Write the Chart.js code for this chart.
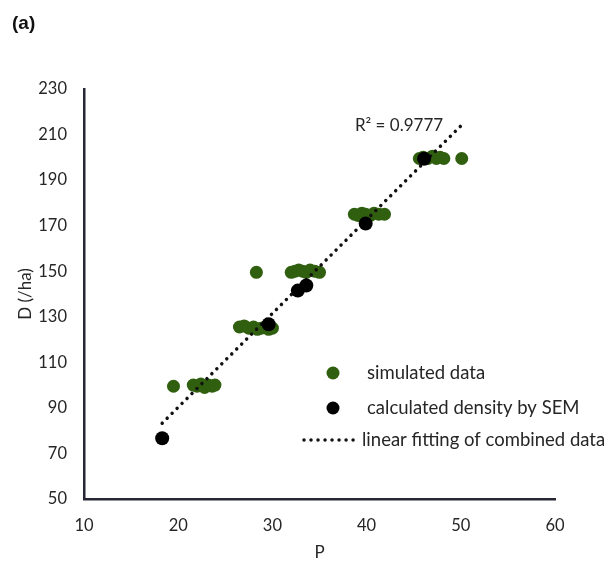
<!DOCTYPE html>
<html>
<head>
<meta charset="utf-8">
<script src="https://cdn.jsdelivr.net/npm/chart.js@4.4.1/dist/chart.umd.min.js"></script>
<style>
  html, body { margin: 0; padding: 0; background: #fff; }
  #wrap { width: 612px; height: 563px; position: relative; }
</style>
</head>
<body>
<div id="wrap"><canvas id="chart" width="612" height="563"></canvas></div>
<script>
// simulated data (green)
const simX = [19.5, 21.6, 22.0, 22.4, 22.8, 23.2, 23.6, 23.9,
  26.5, 27.0, 27.5, 28.0, 28.4, 28.8, 29.2, 29.6, 30.0, 28.3,
  32.0, 32.4, 32.8, 33.2, 33.6, 34.0, 34.5, 35.0,
  38.7, 39.1, 39.5, 39.9, 40.4, 40.8, 41.3, 41.9,
  45.6, 46.0, 46.5, 47.0, 47.4, 47.8, 48.2, 50.1];
const simY = [99.5, 100, 99.5, 100.5, 99, 100, 99.5, 100,
  125.5, 126, 125, 125.5, 124.5, 125, 125.5, 124.5, 125, 149.5,
  149.5, 150, 150.5, 150, 149.5, 150.5, 150, 149.5,
  175, 174.5, 175.5, 175, 174.5, 175.5, 175, 175,
  199.5, 200, 199.5, 200.5, 199.5, 200, 199.5, 199.5];

// calculated density by SEM (black)
const semX = [18.3, 29.6, 32.7, 33.6, 39.9, 46.1];
const semY = [76.7, 126.7, 141.5, 143.7, 170.9, 199.4];

// linear fitting of combined data (end points)
const fitX = [18.3, 50.0];
const fitY = [83.3, 213.8];
const r2Label = 'R² = 0.9777';

const xTicks = [10, 20, 30, 40, 50, 60];
const yTicks = [50, 70, 90, 110, 130, 150, 170, 190, 210, 230];

const legendLabels = ['simulated data', 'calculated density by SEM', 'linear fitting of combined data'];

const GREEN = '#2f5f0f';
const AXIS = '#262634';
const TEXT = '#262626';
const FONT = 'Lato';

const toPoints = (xs, ys) => xs.map((x, i) => ({ x: x, y: ys[i] }));

const extras = {
  id: 'extras',
  afterDraw(chart) {
    const ctx = chart.ctx;
    const ds = chart.data.datasets;
    ctx.save();
    // panel label
    ctx.fillStyle = '#111';
    ctx.font = 'bold 19px "Liberation Sans", Arial, sans-serif';
    ctx.textAlign = 'left';
    ctx.textBaseline = 'middle';
    ctx.fillText('(a)', 12, 24);

    // R² label
    ctx.fillStyle = TEXT;
    ctx.font = '17px ' + FONT;
    ctx.textAlign = 'center';
    ctx.fillText(r2Label, 399, 126);

    // legend
    ctx.textAlign = 'left';
    ctx.font = '18.5px ' + FONT;
    const rows = [373, 408, 440];
    ctx.fillStyle = ds[2].backgroundColor;
    ctx.beginPath(); ctx.arc(333, rows[0], 6.5, 0, Math.PI * 2); ctx.fill();
    ctx.fillStyle = ds[0].backgroundColor;
    ctx.beginPath(); ctx.arc(333, rows[1], 6.5, 0, Math.PI * 2); ctx.fill();
    ctx.strokeStyle = ds[1].borderColor;
    ctx.lineWidth = ds[1].borderWidth;
    ctx.lineCap = 'round';
    ctx.setLineDash(ds[1].borderDash);
    ctx.beginPath(); ctx.moveTo(304, rows[2]); ctx.lineTo(358, rows[2]); ctx.stroke();
    ctx.setLineDash([]);
    ctx.fillStyle = TEXT;
    ctx.fillText(legendLabels[0], 367, rows[0]);
    ctx.fillText(legendLabels[1], 367, rows[1]);
    ctx.fillText(legendLabels[2], 362, rows[2]);
    ctx.restore();
  }
};

new Chart(document.getElementById('chart'), {
  type: 'scatter',
  data: {
    datasets: [
      {
        label: legendLabels[1],
        data: toPoints(semX, semY),
        backgroundColor: '#000',
        borderWidth: 0,
        pointRadius: 7,
        order: 0
      },
      {
        type: 'line',
        label: legendLabels[2],
        data: toPoints(fitX, fitY),
        borderColor: '#111',
        borderWidth: 3.5,
        borderDash: [0.01, 7],
        borderCapStyle: 'round',
        pointRadius: 0,
        fill: false,
        order: 1
      },
      {
        label: legendLabels[0],
        data: toPoints(simX, simY),
        backgroundColor: GREEN,
        borderWidth: 0,
        pointRadius: 6.5,
        order: 2
      }
    ]
  },
  options: {
    responsive: false,
    animation: false,
    layout: { padding: { left: 0, top: 89, right: 57, bottom: 0 } },
    plugins: {
      legend: { display: false },
      tooltip: { enabled: false }
    },
    scales: {
      x: {
        type: 'linear',
        min: 10, max: 60,
        afterFit: s => { s.height = 64; },
        afterBuildTicks: s => { s.ticks = xTicks.map(v => ({ value: v })); },
        grid: { display: false, drawTicks: false },
        border: { display: true, color: AXIS, width: 2.5 },
        ticks: { padding: 17, color: TEXT, font: { family: FONT, size: 16.5 } },
        title: { display: true, text: 'P', color: TEXT, font: { family: FONT, size: 17 }, padding: { top: 0, bottom: 0 } }
      },
      y: {
        type: 'linear',
        min: 50, max: 230,
        afterFit: s => { s.width = 84; },
        afterBuildTicks: s => { s.ticks = yTicks.map(v => ({ value: v })); },
        grid: { display: false, drawTicks: false },
        border: { display: true, color: AXIS, width: 2.5 },
        ticks: { padding: 17, color: TEXT, font: { family: FONT, size: 16.5 } },
        title: { display: true, text: 'D (/ha)', color: TEXT, font: { family: FONT, size: 17 }, padding: { top: 15, bottom: 0 } }
      }
    }
  },
  plugins: [extras]
});
</script>
</body>
</html>
